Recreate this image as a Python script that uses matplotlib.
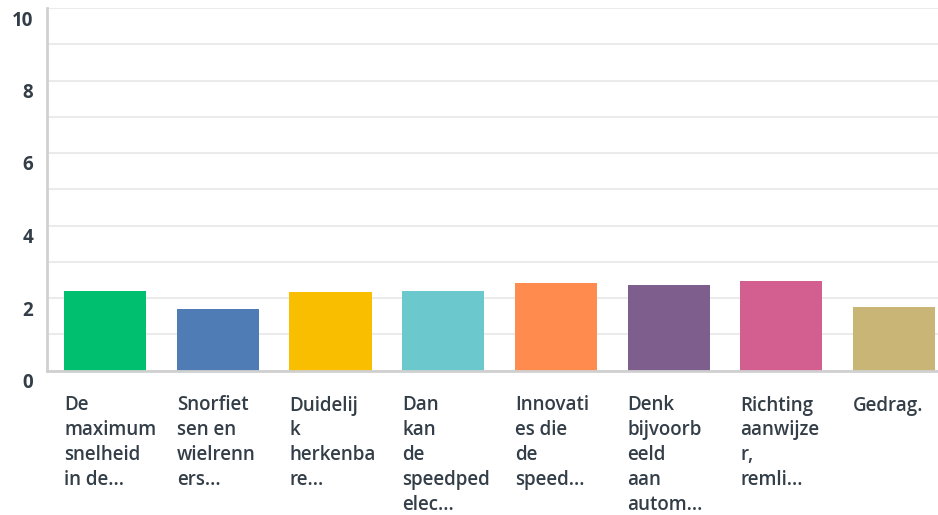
import numpy as np
import matplotlib
matplotlib.use('Agg')
import matplotlib.pyplot as plt
from matplotlib import transforms

# Data
labels = ['De\nmaximum\nsnelheid\nin de...',
          'Snorfiet\nsen en\nwielrenn\ners...',
          'Duidelij\nk\nherkenba\nre...',
          'Dan\nkan\nde\nspeedped\nelec...',
          'Innovati\nes die\nde\nspeed...',
          'Denk\nbijvoorb\neeld\naan\nautom...',
          'Richting\naanwijze\nr,\nremli...',
          'Gedrag.']
values = [2.19, 1.70, 2.17, 2.19, 2.41, 2.36, 2.47, 1.75]
colors = ['#00bf6f', '#507cb6', '#f9be00', '#6bc8cd', '#ff8b4f',
          '#7d5e8d', '#d25f90', '#c9b677']

text_color = '#333e48'
font = 'Open Sans'

fig = plt.figure(figsize=(9.38, 5.15), dpi=100)
ax = fig.add_axes([47 / 938, (515 - 370.5) / 515, 891 / 938, 362.5 / 515])

x = np.arange(len(values))
width = 0.728
ax.bar(x, values, width=width, color=colors, zorder=3)

ax.set_xlim(-0.515, 7.39)
ax.set_ylim(0, 10)
ax.set_yticks(range(0, 11, 2))
ax.set_yticks(range(0, 11), minor=True)
ax.yaxis.grid(True, which='both', color='#ebebeb', linewidth=1.5, zorder=0)
ax.set_xticks([])
ax.tick_params(axis='y', which='both', length=0, pad=10)
# tick labels sit a bit below their gridlines in the reference
shift = transforms.ScaledTranslation(0, -10 / 100, fig.dpi_scale_trans)
for lbl in ax.get_yticklabels():
    lbl.set_fontfamily(font)
    lbl.set_fontweight('bold')
    lbl.set_fontsize(13.5)
    lbl.set_color(text_color)
    lbl.set_transform(lbl.get_transform() + shift)

for side in ['top', 'right']:
    ax.spines[side].set_visible(False)
for side in ['left', 'bottom']:
    ax.spines[side].set_color('#d0d0d0')
    ax.spines[side].set_linewidth(2)
    ax.spines[side].set_zorder(4)

# category labels, left aligned under each bar
trans = transforms.blended_transform_factory(ax.transData, ax.transAxes)
offset = transforms.ScaledTranslation(0, -25 / 100, fig.dpi_scale_trans)
for i, lab in enumerate(labels):
    ax.text(i - width / 2, 0, lab, transform=trans + offset, ha='left', va='top',
            fontsize=13.5, fontweight='semibold', color=text_color, family=font,
            linespacing=1.33)

fig.savefig('out.png', dpi=100)
